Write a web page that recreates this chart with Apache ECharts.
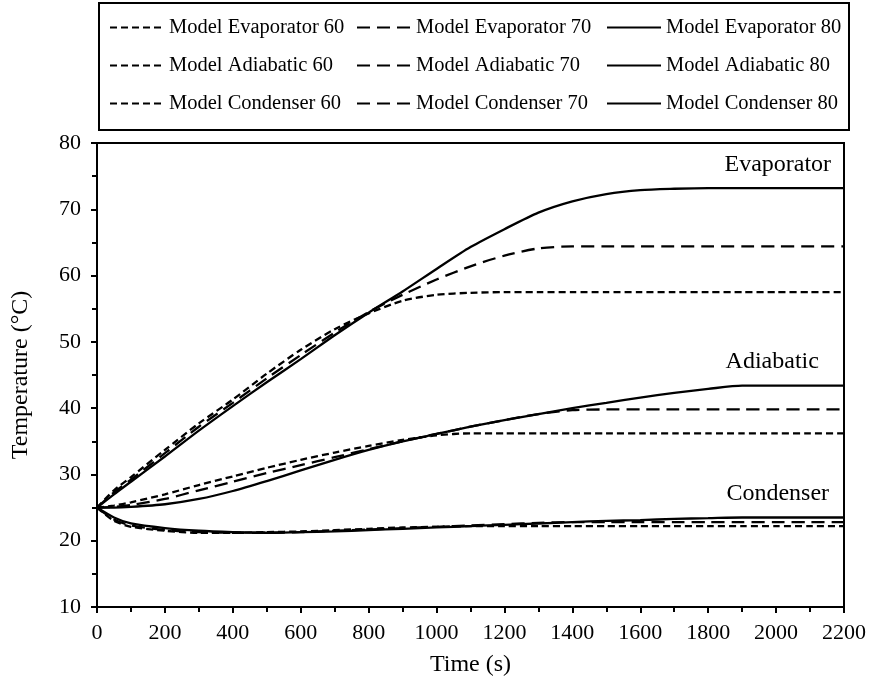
<!DOCTYPE html>
<html>
<head>
<meta charset="utf-8">
<script src="https://cdn.jsdelivr.net/npm/echarts@6/dist/echarts.min.js"></script>
<style>html,body{margin:0;padding:0;background:#fff;}#c{width:869px;height:684px;}</style>
</head>
<body>
<div id="c"></div>
<script>
// Time samples (s)
const times = [0, 50, 100, 200, 300, 400, 500, 600, 700, 800, 900, 1000, 1100, 1200, 1300, 1400, 1500, 1600, 1700, 1800, 1900, 2000, 2100, 2200];

// Evaporator
const evap60 = [25, 27.6, 29.6, 33.7, 37.7, 41.3, 45.2, 48.8, 51.9, 54.3, 56.2, 57.1, 57.4, 57.5, 57.5, 57.5, 57.5, 57.5, 57.5, 57.5, 57.5, 57.5, 57.5, 57.5];
const evap70 = [25, 27.3, 29.2, 33.2, 37.2, 40.8, 44.5, 48.0, 51.4, 54.5, 57.1, 59.4, 61.4, 63.0, 64.1, 64.4, 64.4, 64.4, 64.4, 64.4, 64.4, 64.4, 64.4, 64.4];
const evap80 = [25, 27.0, 28.9, 32.7, 36.6, 40.3, 43.9, 47.4, 51.0, 54.4, 57.6, 61.0, 64.3, 67.0, 69.5, 71.2, 72.3, 72.9, 73.1, 73.2, 73.2, 73.2, 73.2, 73.2];

// Adiabatic
const adi60 = [25, 25.3, 25.8, 27.0, 28.4, 29.7, 31.0, 32.2, 33.3, 34.3, 35.2, 35.9, 36.2, 36.2, 36.2, 36.2, 36.2, 36.2, 36.2, 36.2, 36.2, 36.2, 36.2, 36.2];
const adi70 = [25, 25.1, 25.4, 26.3, 27.6, 28.9, 30.2, 31.4, 32.6, 33.8, 35.0, 36.1, 37.2, 38.2, 39.1, 39.7, 39.8, 39.8, 39.8, 39.8, 39.8, 39.8, 39.8, 39.8];
const adi80 = [25, 25.0, 25.1, 25.5, 26.3, 27.5, 29.0, 30.6, 32.2, 33.7, 35.0, 36.1, 37.2, 38.2, 39.1, 40.0, 40.8, 41.6, 42.3, 42.9, 43.4, 43.4, 43.4, 43.4];

// Condenser
const cond60 = [25, 23.0, 22.1, 21.5, 21.2, 21.2, 21.3, 21.4, 21.6, 21.8, 22.0, 22.1, 22.2, 22.2, 22.2, 22.2, 22.2, 22.2, 22.2, 22.2, 22.2, 22.2, 22.2, 22.2];
const cond70 = [25, 23.2, 22.3, 21.6, 21.3, 21.2, 21.2, 21.3, 21.5, 21.7, 21.9, 22.1, 22.3, 22.5, 22.7, 22.8, 22.8, 22.8, 22.8, 22.8, 22.8, 22.8, 22.8, 22.8];
const cond80 = [25, 23.5, 22.6, 21.9, 21.5, 21.3, 21.2, 21.3, 21.4, 21.6, 21.8, 22.0, 22.2, 22.4, 22.6, 22.8, 23.0, 23.1, 23.3, 23.4, 23.5, 23.5, 23.5, 23.5];

const seriesNames = [
  'Model Evaporator 60', 'Model Evaporator 70', 'Model Evaporator 80',
  'Model Adiabatic 60', 'Model Adiabatic 70', 'Model Adiabatic 80',
  'Model Condenser 60', 'Model Condenser 70', 'Model Condenser 80'
];
const seriesValues = [evap60, evap70, evap80, adi60, adi70, adi80, cond60, cond70, cond80];
const regionLabels = ['Evaporator', 'Adiabatic', 'Condenser'];

const FONT = 'Liberation Serif';
const shortDash = [7, 4];
const longDash = [13, 7];
const dashFor = i => (i % 3 === 0 ? shortDash : (i % 3 === 1 ? longDash : 'solid'));

// annotation anchor points (data coordinates, right-aligned text)
const labelAnchors = [[2162, 76.8], [2126, 47.0], [2156, 27.05]];

const series = seriesNames.map((name, i) => {
  const s = {
    name: name,
    type: 'line',
    data: times.map((t, k) => [t, seriesValues[i][k]]),
    symbol: 'none',
    smooth: 0.25,
    lineStyle: { color: '#000', width: 2.3, type: dashFor(i) },
    itemStyle: { color: '#000' },
    z: 3
  };
  if (i % 3 === 2) {
    const r = Math.floor(i / 3);
    s.markPoint = {
      symbol: 'circle',
      symbolSize: 0,
      silent: true,
      data: [{ coord: labelAnchors[r] }],
      label: {
        show: true, position: 'left', distance: 0,
        formatter: regionLabels[r],
        fontFamily: FONT, fontSize: 24, color: '#000'
      }
    };
  }
  return s;
});

const legendCommon = {
  orient: 'vertical',
  top: 17,
  padding: 0,
  itemWidth: 54,
  itemHeight: 14,
  itemGap: 17,
  selectedMode: false,
  itemStyle: { opacity: 0 },
  textStyle: { fontFamily: FONT, fontSize: 20.5, color: '#000' }
};

const chart = echarts.init(document.getElementById('c'), null, { renderer: 'canvas' });
chart.setOption({
  animation: false,
  backgroundColor: '#fff',
  grid: { left: 97, right: 24, top: 143, bottom: 77, show: true, borderColor: '#000', borderWidth: 2, backgroundColor: 'transparent' },
  legend: [
    Object.assign({}, legendCommon, { left: 109, data: [seriesNames[0], seriesNames[3], seriesNames[6]] }),
    Object.assign({}, legendCommon, { left: 356, data: [seriesNames[1], seriesNames[4], seriesNames[7]] }),
    Object.assign({}, legendCommon, { left: 606, data: [seriesNames[2], seriesNames[5], seriesNames[8]] })
  ],
  graphic: [{
    type: 'rect',
    shape: { x: 99, y: 3, width: 750, height: 127 },
    style: { fill: 'none', stroke: '#000', lineWidth: 2 }
  }],
  xAxis: {
    type: 'value', min: 0, max: 2200, interval: 200,
    name: 'Time (s)', nameLocation: 'middle', nameGap: 46,
    nameTextStyle: { fontFamily: FONT, fontSize: 24, color: '#000' },
    axisLine: { show: true, lineStyle: { color: '#000', width: 2 } },
    axisTick: { show: true, inside: false, length: 6, lineStyle: { color: '#000', width: 2 } },
    minorTick: { show: true, splitNumber: 2, length: 5, lineStyle: { color: '#000', width: 2 } },
    axisLabel: { fontFamily: FONT, fontSize: 22, color: '#000', margin: 15, formatter: v => String(v) },
    splitLine: { show: false }
  },
  yAxis: {
    type: 'value', min: 10, max: 80, interval: 10,
    name: 'Temperature (°C)', nameLocation: 'middle', nameGap: 64,
    nameTextStyle: { fontFamily: FONT, fontSize: 24, color: '#000' },
    axisLine: { show: true, lineStyle: { color: '#000', width: 2 } },
    axisTick: { show: true, inside: false, length: 6, lineStyle: { color: '#000', width: 2 } },
    minorTick: { show: true, splitNumber: 2, length: 5, lineStyle: { color: '#000', width: 2 } },
    axisLabel: { fontFamily: FONT, fontSize: 22, color: '#000', margin: 16, formatter: v => String(v) },
    splitLine: { show: false }
  },
  series: series
});
</script>
</body>
</html>
